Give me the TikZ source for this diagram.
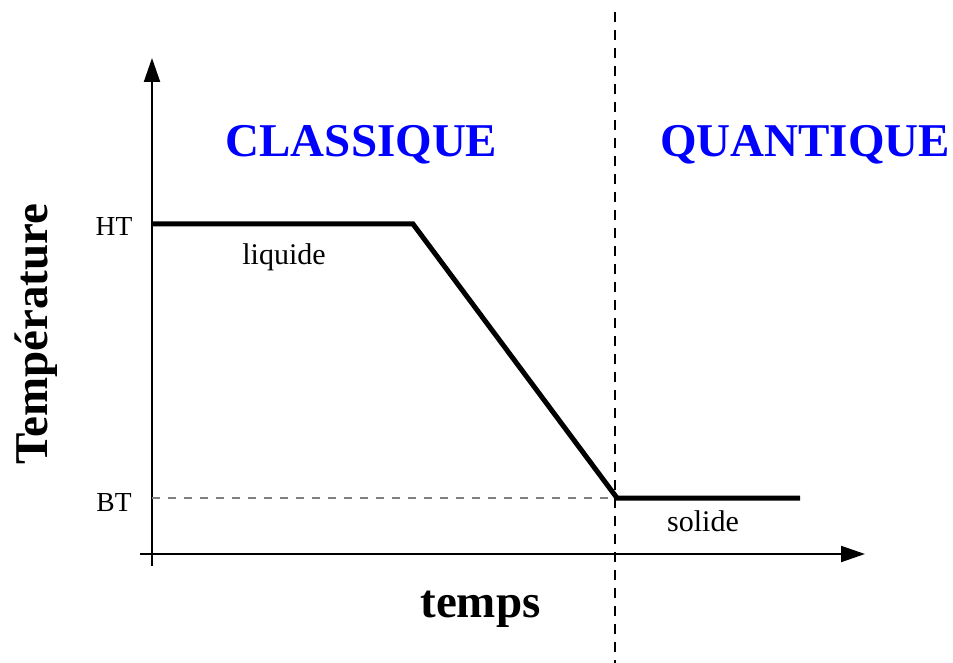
\documentclass[tikz,border=0pt]{standalone}
\usepackage{fontspec}
\setmainfont{Liberation Serif}
\usetikzlibrary{arrows.meta}
\begin{document}
\begin{tikzpicture}[x=1pt,y=-1pt,
  axis/.style={line width=2pt,-{Triangle[length=24pt,width=16pt]}},
  curve/.style={line width=5pt,line join=miter},
  lbl/.style={inner sep=0pt,anchor=base},
  big/.style={lbl,font=\fontsize{47}{50}\selectfont\bfseries},
  small/.style={lbl,font=\fontsize{30}{32}\selectfont},
  tick/.style={lbl,font=\fontsize{27.5}{30}\selectfont},
  region/.style={big,text=blue}]
\useasboundingbox (0,0) rectangle (953,663);
\coordinate (yb) at (152,566);
\coordinate (yt) at (152,58);
\coordinate (xl) at (140,554);
\coordinate (xr) at (865,554);
\draw[axis] (yb) -- (yt);
\draw[axis] (xl) -- (xr);
\coordinate (vt) at (615,12);
\coordinate (vb) at (615,663);
\draw[line width=1.5pt,dash pattern=on 10pt off 8pt] (vt) -- (vb);
\coordinate (bt0) at (152,498);
\coordinate (p3) at (617,498);
\draw[gray,line width=1.2pt,dash pattern=on 8pt off 8pt] (bt0) -- (p3);
\coordinate (p1) at (152,224);
\coordinate (p2) at (413,224);
\coordinate (p4) at (800,498);
\draw[curve] (p1) -- (p2) -- (p3) -- (p4);
\node[tick] (ht) at (114,236) {HT};
\node[tick] (bt) at (114,511) {BT};
\node[small] (liq) at (284,264) {liquide};
\node[small] (sol) at (703,531) {solide};
\node[region] (cl) at (361.5,157) {CLASSIQUE};
\node[region] (qu) at (805,157) {QUANTIQUE};
\node[big] (tps) at (480.5,617) {temps};
\node[big,rotate=90] (temp) at (47,334) {Température};
\end{tikzpicture}
\end{document}
